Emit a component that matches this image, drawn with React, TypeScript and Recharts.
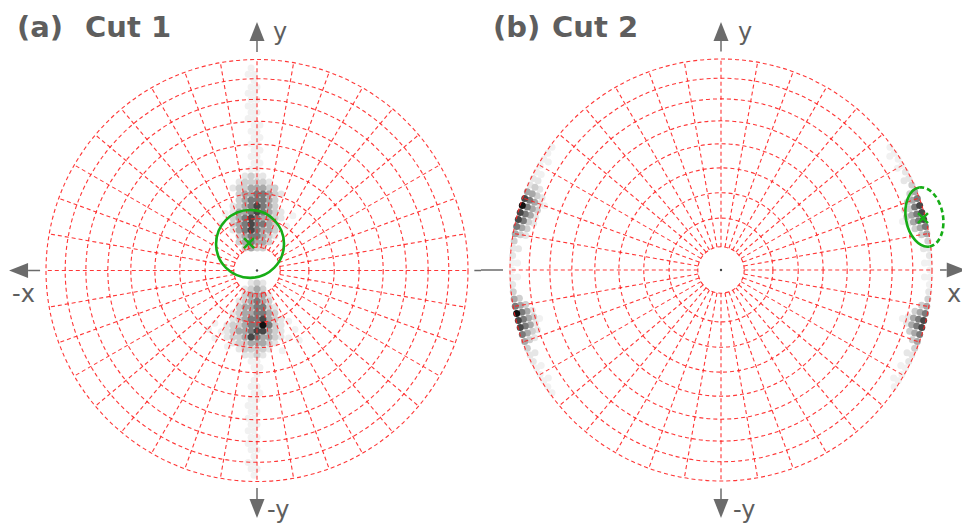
import { ScatterChart, Scatter, XAxis, YAxis, PolarGrid, ReferenceLine } from 'recharts';

type Pt = [number, number];

const RADIUS = 211; // px for one unit of the projection disk
const HEIGHT = 529;
const PANEL_W = 481;
const AXIS = '#6b6b6b';
const GREEN = '#16ad16';
const FONT = '"DejaVu Sans", sans-serif';

// projection grid: ring radii (unit disk) and spoke angles (deg)
const ringRadii = [0.11, 0.246, 0.366, 0.484, 0.598, 0.707, 0.811, 0.909, 1];
const spokeAngles = [
  0, 10, 20, 30, 40, 50, 60, 70, 80, 90, 100, 110, 120, 130, 140, 150, 160, 170,
  180, 190, 200, 210, 220, 230, 240, 250, 260, 270, 280, 290, 300, 310, 320, 330, 340, 350,
];

// darkest -> faintest
const shades = ['#111111', '#474747', '#7a7a7a', '#a8a8a8', '#cfcfcf', '#e6e6e6', '#f1f1f1'];

// ---- Cut 1 density cells, [x, y] on the unit disk ----
const cut1Black: Pt[] = [[0.028, -0.258]];
const cut1Dark: Pt[] = [
  [-0.028, 0.192], [-0.028, 0.22], [-0.028, 0.249], [0, 0.277], [0, 0.306],
  [0.028, -0.23], [0, -0.287], [0.028, -0.287], [-0.028, -0.315],
];
const cut1Mid: Pt[] = [
  [-0.028, 0.135], [-0.028, 0.164], [0, 0.164], [-0.057, 0.192], [0, 0.192], [-0.057, 0.22], [0, 0.22],
  [0.028, 0.22], [-0.057, 0.249], [0, 0.249], [-0.028, 0.277], [0.028, 0.277], [-0.028, 0.306],
  [0.028, 0.306], [-0.028, 0.334], [0, 0.334], [0.028, 0.334], [0, 0.363], [0.028, 0.363],
  [0, -0.145], [0, -0.173], [0.028, -0.173], [0, -0.201], [0.028, -0.201], [-0.028, -0.23], [0, -0.23],
  [-0.028, -0.258], [0, -0.258], [0.057, -0.258], [-0.028, -0.287], [0, -0.315],
];
const cut1Light: Pt[] = [
  [-0.028, 0.107], [-0.057, 0.135], [0, 0.135], [0.028, 0.135], [-0.057, 0.164], [0.028, 0.164],
  [-0.085, 0.192], [0.028, 0.192], [0.057, 0.192], [-0.085, 0.22], [0.057, 0.22], [-0.085, 0.249],
  [0.028, 0.249], [0.057, 0.249], [-0.085, 0.277], [-0.057, 0.277], [0.057, 0.277], [-0.057, 0.306],
  [0.057, 0.306], [-0.057, 0.334], [0.057, 0.334], [-0.057, 0.363], [-0.028, 0.363], [0.057, 0.363],
  [-0.028, 0.391], [0, 0.391], [0.028, 0.391],
  [0, -0.088], [-0.028, -0.116], [0, -0.116], [0.028, -0.116], [-0.028, -0.145], [0.028, -0.145],
  [-0.057, -0.173], [-0.028, -0.173], [-0.057, -0.201], [-0.028, -0.201], [0.057, -0.201],
  [-0.057, -0.23], [0.057, -0.23], [-0.057, -0.258], [-0.085, -0.287], [-0.057, -0.287],
  [0.057, -0.287], [-0.057, -0.315], [0.028, -0.315], [0.057, -0.315], [-0.028, -0.344],
  [0, -0.344], [0.028, -0.344],
];
const cut1Pale: Pt[] = [
  [-0.057, 0.107], [0, 0.107], [0.028, 0.107], [-0.085, 0.135], [0.057, 0.135], [-0.085, 0.164],
  [0.057, 0.164], [0.085, 0.192], [-0.114, 0.22], [0.085, 0.22], [-0.114, 0.249], [0.085, 0.249],
  [0.085, 0.277], [-0.085, 0.306], [0.085, 0.306], [-0.085, 0.334], [0.085, 0.334], [-0.085, 0.363],
  [0.085, 0.363], [-0.085, 0.391], [-0.057, 0.391], [0.057, 0.391], [0.085, 0.391], [-0.057, 0.419],
  [-0.028, 0.419], [0, 0.419], [0.028, 0.419], [-0.028, 0.448],
  [0, -0.059], [-0.028, -0.088], [0.028, -0.088], [-0.057, -0.116], [-0.057, -0.145], [0.057, -0.145],
  [-0.085, -0.173], [0.057, -0.173], [-0.085, -0.201], [0.085, -0.201], [-0.085, -0.23], [0.085, -0.23],
  [-0.114, -0.258], [-0.085, -0.258], [0.085, -0.258], [-0.114, -0.287], [0.085, -0.287],
  [-0.114, -0.315], [-0.085, -0.315], [0.085, -0.315], [-0.085, -0.344], [-0.057, -0.344],
  [0.057, -0.344], [-0.057, -0.372], [-0.028, -0.372], [0, -0.372], [0.028, -0.372], [0, -0.4],
];
const cut1Haze: Pt[] = [
  [0.085, 0.164], [-0.114, 0.192], [0.114, 0.249], [-0.114, 0.277], [0.114, 0.277], [-0.114, 0.306],
  [0.114, 0.363], [-0.114, 0.391], [-0.085, 0.419], [0.057, 0.419], [-0.057, 0.448], [0, 0.448],
  [0.028, 0.448],
  [-0.028, -0.059], [0.028, -0.059], [-0.057, -0.088], [0.057, -0.116], [-0.085, -0.145],
  [0.085, -0.173], [-0.114, -0.201], [-0.114, -0.23], [0.114, -0.23], [-0.142, -0.258],
  [0.114, -0.258], [-0.142, -0.287], [0.114, -0.287], [-0.142, -0.315], [0.114, -0.315],
  [-0.114, -0.344], [0.085, -0.344], [-0.085, -0.372], [0.057, -0.372], [-0.057, -0.4],
  [-0.028, -0.4], [0.028, -0.4],
];
const cut1Faint: Pt[] = [
  [-0.028, 0.48], [0, 0.48], [-0.014, 0.51], [0.014, 0.51], [-0.028, 0.54], [0, 0.54], [-0.014, 0.57],
  [0.014, 0.57], [-0.028, 0.6], [0, 0.6], [-0.014, 0.63], [0.014, 0.63], [-0.028, 0.66], [0, 0.66],
  [-0.014, 0.69], [0.014, 0.69], [-0.042, 0.72], [-0.014, 0.72], [-0.028, 0.75], [0, 0.75],
  [-0.042, 0.78], [-0.014, 0.78], [-0.028, 0.81], [0, 0.81], [-0.042, 0.84], [-0.014, 0.84],
  [-0.028, 0.87], [0, 0.87], [-0.014, 0.9], [-0.042, 0.93], [-0.014, 0.93], [-0.028, 0.96],
  [-0.028, -0.43], [0, -0.43], [-0.014, -0.46], [0.014, -0.46], [0, -0.49], [-0.014, -0.52],
  [-0.028, -0.55], [0, -0.55], [-0.014, -0.58], [0.014, -0.58], [-0.028, -0.61], [0, -0.61],
  [-0.042, -0.64], [-0.014, -0.64], [-0.028, -0.67], [0, -0.67], [-0.042, -0.7], [-0.014, -0.7],
  [-0.028, -0.73], [0, -0.73], [-0.042, -0.76], [-0.014, -0.76], [-0.028, -0.79], [0, -0.79],
  [-0.042, -0.82], [-0.014, -0.82], [-0.028, -0.85], [0, -0.85], [-0.014, -0.88], [-0.042, -0.91],
  [-0.014, -0.91], [-0.028, -0.94], [0, -0.94], [-0.014, -0.97],
  [-0.2, -0.25], [-0.17, -0.29], [-0.2, -0.32], [-0.23, -0.28], [0.15, -0.24], [0.18, -0.28],
  [0.15, -0.32], [0.2, -0.33], [-0.17, 0.22], [-0.15, 0.27], [0.14, 0.21], [0.17, 0.26],
  [-0.14, -0.36], [0.12, -0.38],
];

// ---- Cut 2 density cells along the rim, [angle deg, radius] ----
const cut2Black: Pt[] = [[162, 0.99], [192, 0.99]];
const cut2Dark: Pt[] = [
  [160, 0.99], [164, 0.99], [166, 0.99], [194, 0.99], [196, 0.99], [14, 0.99], [16, 0.99], [18, 0.99],
  [-14, 0.99], [-16, 0.99],
];
const cut2Mid: Pt[] = [
  [168, 0.99], [160, 0.965], [162, 0.965], [164, 0.965], [166, 0.965], [190, 0.99], [198, 0.99],
  [192, 0.965], [194, 0.965], [196, 0.965], [12, 0.99], [20, 0.99], [14, 0.965], [16, 0.965],
  [18, 0.965], [-12, 0.99], [-18, 0.99], [-14, 0.965], [-16, 0.965],
];
const cut2Light: Pt[] = [
  [158, 0.99], [170, 0.99], [158, 0.965], [168, 0.965], [160, 0.94], [162, 0.94], [164, 0.94],
  [188, 0.99], [200, 0.99], [190, 0.965], [198, 0.965], [192, 0.94], [194, 0.94], [196, 0.94],
  [10, 0.99], [22, 0.99], [12, 0.965], [20, 0.965], [14, 0.94], [16, 0.94], [-10, 0.99], [-20, 0.99],
  [-12, 0.965], [-18, 0.965], [-14, 0.94], [-16, 0.94],
];
const cut2Pale: Pt[] = [
  [172, 0.99], [156, 0.965], [170, 0.965], [158, 0.94], [166, 0.94], [168, 0.94], [162, 0.915],
  [186, 0.99], [202, 0.99], [188, 0.965], [200, 0.965], [190, 0.94], [198, 0.94], [194, 0.915],
  [8, 0.99], [24, 0.99], [10, 0.965], [22, 0.965], [12, 0.94], [18, 0.94], [20, 0.94], [16, 0.915],
  [-8, 0.99], [-22, 0.99], [-10, 0.965], [-20, 0.965], [-12, 0.94], [-18, 0.94],
];
const cut2Haze: Pt[] = [
  [156, 0.94], [170, 0.94], [158, 0.915], [160, 0.915], [164, 0.915], [166, 0.915], [200, 0.94],
  [192, 0.915], [196, 0.915], [198, 0.915], [14, 0.915], [18, 0.915], [-14, 0.915], [-16, 0.915],
  [154, 0.99], [156, 0.99], [174, 0.99], [176, 0.99], [184, 0.99], [204, 0.99], [206, 0.99],
  [26, 0.99], [28, 0.99], [6, 0.99], [4, 0.99], [-6, 0.99], [-24, 0.99], [-26, 0.99],
  [154, 0.965], [174, 0.965], [204, 0.965], [26, 0.965], [6, 0.965], [-24, 0.965],
];
const cut2Faint: Pt[] = [
  [144, 0.99], [146, 0.99], [148, 0.99], [150, 0.99], [152, 0.99], [178, 0.99], [180, 0.99],
  [182, 0.99], [208, 0.99], [210, 0.99], [212, 0.99], [214, 0.99], [216, 0.99], [30, 0.99],
  [32, 0.99], [34, 0.99], [36, 0.99], [2, 0.99], [0, 0.99], [-2, 0.99], [-4, 0.99], [-28, 0.99],
  [-30, 0.99], [-32, 0.99], [-34, 0.99], [148, 0.965], [152, 0.965], [178, 0.965], [182, 0.965],
  [208, 0.965], [212, 0.965], [30, 0.965], [34, 0.965], [2, 0.965], [-2, 0.965], [-28, 0.965],
  [-32, 0.965], [160, 0.89], [195, 0.89], [15, 0.89], [-15, 0.89],
];

// fitted spread (circle / ellipse) and best estimate
const fit1 = [{ x: -0.033, y: 0.126, rx: 0.161, ry: 0.161, rot: 0, half: false }];
const best1 = [{ x: -0.038, y: 0.13 }];
const fit2 = [{ x: 0.964, y: 0.251, rx: 0.088, ry: 0.142, rot: -10, half: true }];
const best2 = [{ x: 0.957, y: 0.246 }];
const origin = [{ x: 0, y: 0 }];

const xy = (pts: Pt[]) => pts.map(([x, y]) => ({ x, y }));
const polar = (pts: Pt[]) =>
  pts.map(([deg, r]) => ({ x: r * Math.cos((deg * Math.PI) / 180), y: r * Math.sin((deg * Math.PI) / 180) }));

const cut1Cells = [cut1Black, cut1Dark, cut1Mid, cut1Light, cut1Pale, cut1Haze, cut1Faint].map(xy);
const cut2Cells = [cut2Black, cut2Dark, cut2Mid, cut2Light, cut2Pale, cut2Haze, cut2Faint].map(polar);

const cellShape = (fill: string) => (p: any) => <circle cx={p.cx} cy={p.cy} r={3.5} fill={fill} />;

const FitShape = (p: any) => {
  const { cx, cy, payload } = p;
  const rx = payload.rx * RADIUS;
  const ry = payload.ry * RADIUS;
  const tf = `rotate(${payload.rot} ${cx} ${cy})`;
  if (!payload.half) {
    return <ellipse cx={cx} cy={cy} rx={rx} ry={ry} fill="none" stroke={GREEN} strokeWidth={2.6} transform={tf} />;
  }
  return (
    <g transform={tf}>
      <path d={`M${cx},${cy - ry} A${rx},${ry} 0 0 0 ${cx},${cy + ry}`} fill="none" stroke={GREEN} strokeWidth={2.6} />
      <path
        d={`M${cx},${cy - ry} A${rx},${ry} 0 0 1 ${cx},${cy + ry}`}
        fill="none"
        stroke={GREEN}
        strokeWidth={2.6}
        strokeDasharray="5 3"
      />
    </g>
  );
};

const Cross = (p: any) => {
  const { cx, cy } = p;
  const s = 5;
  return (
    <g stroke={GREEN} strokeWidth={2.5}>
      <line x1={cx - s} y1={cy - s} x2={cx + s} y2={cy + s} />
      <line x1={cx - s} y1={cy + s} x2={cx + s} y2={cy - s} />
    </g>
  );
};

const OriginDot = (p: any) => <circle cx={p.cx} cy={p.cy} r={1.2} fill="#444" />;

// gray axis: plain line, or line ending in an arrow head at the second point
const axisShape = (head: boolean) => (p: any) => {
  const { x1, y1, x2, y2 } = p;
  if (!head) return <line x1={x1} y1={y1} x2={x2} y2={y2} stroke={AXIS} strokeWidth={1.5} />;
  const len = Math.hypot(x2 - x1, y2 - y1);
  const ux = (x2 - x1) / len;
  const uy = (y2 - y1) / len;
  const bx = x2 - ux * 19;
  const by = y2 - uy * 19;
  const nx = -uy * 7.5;
  const ny = ux * 7.5;
  return (
    <g>
      <line x1={x1} y1={y1} x2={bx} y2={by} stroke={AXIS} strokeWidth={1.5} />
      <polygon points={`${x2},${y2} ${bx + nx},${by + ny} ${bx - nx},${by - ny}`} fill={AXIS} />
    </g>
  );
};

type Seg = { from: [number, number]; to: [number, number]; head: boolean };
type Txt = { x: number; y: number; text: string; size: number; bold?: boolean };
type Margin = { top: number; right: number; bottom: number; left: number };

interface PanelProps {
  left: number;
  margin: Margin;
  cells: { x: number; y: number }[][];
  fit: any[];
  best: any[];
  axes: Seg[];
  texts: Txt[];
}

function Panel({ left, margin, cells, fit, best, axes, texts }: PanelProps) {
  const cx = margin.left + RADIUS;
  const cy = margin.top + RADIUS;
  return (
    <div style={{ position: 'absolute', left, top: 0, width: PANEL_W, height: HEIGHT }}>
      {/* bottom layer: axis arrows and density cells */}
      <div style={{ position: 'absolute', left: 0, top: 0 }}>
        <ScatterChart width={PANEL_W} height={HEIGHT} margin={margin}>
          <XAxis type="number" dataKey="x" domain={[-1, 1]} hide />
          <YAxis type="number" dataKey="y" domain={[-1, 1]} hide />
          {axes.map((a, i) => (
            <ReferenceLine
              key={`ax${i}`}
              segment={[{ x: a.from[0], y: a.from[1] }, { x: a.to[0], y: a.to[1] }]}
              ifOverflow="visible"
              shape={axisShape(a.head)}
            />
          ))}
          {cells
            .map((pts, i) => (
              <Scatter key={`c${i}`} data={pts} shape={cellShape(shades[i])} isAnimationActive={false} />
            ))
            .reverse()}
        </ScatterChart>
      </div>
      {/* top layer: projection grid, fit and labels */}
      <div style={{ position: 'absolute', left: 0, top: 0 }}>
        <ScatterChart width={PANEL_W} height={HEIGHT} margin={margin}>
          <XAxis type="number" dataKey="x" domain={[-1, 1]} hide />
          <YAxis type="number" dataKey="y" domain={[-1, 1]} hide />
          <PolarGrid
            cx={cx}
            cy={cy}
            innerRadius={ringRadii[0] * RADIUS}
            outerRadius={RADIUS}
            polarAngles={spokeAngles}
            polarRadius={ringRadii.map((r) => r * RADIUS)}
            gridType="circle"
            stroke="#ff2020"
            strokeOpacity={0.9}
            strokeWidth={1.1}
            strokeDasharray="4 3"
          />
          <Scatter data={origin} shape={OriginDot} isAnimationActive={false} />
          <Scatter data={fit} shape={FitShape} isAnimationActive={false} />
          <Scatter data={best} shape={Cross} isAnimationActive={false} />
          {texts.map((t, i) => (
            <text
              key={`t${i}`}
              x={t.x}
              y={t.y}
              fontSize={t.size}
              fontWeight={t.bold ? 'bold' : 'normal'}
              fill="#5e5e5e"
              fontFamily={FONT}
            >
              {t.text}
            </text>
          ))}
        </ScatterChart>
      </div>
    </div>
  );
}

export default function App() {
  return (
    <div style={{ position: 'absolute', left: 0, top: 0, width: 962, height: HEIGHT, background: '#fff', overflow: 'hidden' }}>
      <Panel
        left={0}
        margin={{ top: 59.5, right: 13, bottom: 47.5, left: 46 }}
        cells={cut1Cells}
        fit={fit1}
        best={best1}
        axes={[
          { from: [0, 1.035], to: [0, 1.178], head: true },
          { from: [0, -1.031], to: [0, -1.173], head: true },
          { from: [-1.028, 0], to: [-1.175, 0], head: true },
          { from: [1.03, 0], to: [1.065, 0], head: false },
        ]}
        texts={[
          { x: 17, y: 37, text: '(a)', size: 29, bold: true },
          { x: 85, y: 37, text: 'Cut 1', size: 29, bold: true },
          { x: 273, y: 40, text: 'y', size: 24 },
          { x: 12, y: 302, text: '-x', size: 24 },
          { x: 267, y: 518, text: '-y', size: 24 },
        ]}
      />
      <Panel
        left={PANEL_W}
        margin={{ top: 59, right: 30, bottom: 48, left: 29 }}
        cells={cut2Cells}
        fit={fit2}
        best={best2}
        axes={[
          { from: [0, 1.035], to: [0, 1.175], head: true },
          { from: [0, -1.035], to: [0, -1.175], head: true },
          { from: [-1.14, 0], to: [-1.033, 0], head: false },
          { from: [1.038, 0], to: [1.16, 0], head: true },
        ]}
        texts={[
          { x: 12, y: 37, text: '(b)', size: 29, bold: true },
          { x: 71, y: 37, text: 'Cut 2', size: 29, bold: true },
          { x: 257, y: 40, text: 'y', size: 24 },
          { x: 466, y: 302, text: 'x', size: 24 },
          { x: 252, y: 518, text: '-y', size: 24 },
        ]}
      />
    </div>
  );
}
